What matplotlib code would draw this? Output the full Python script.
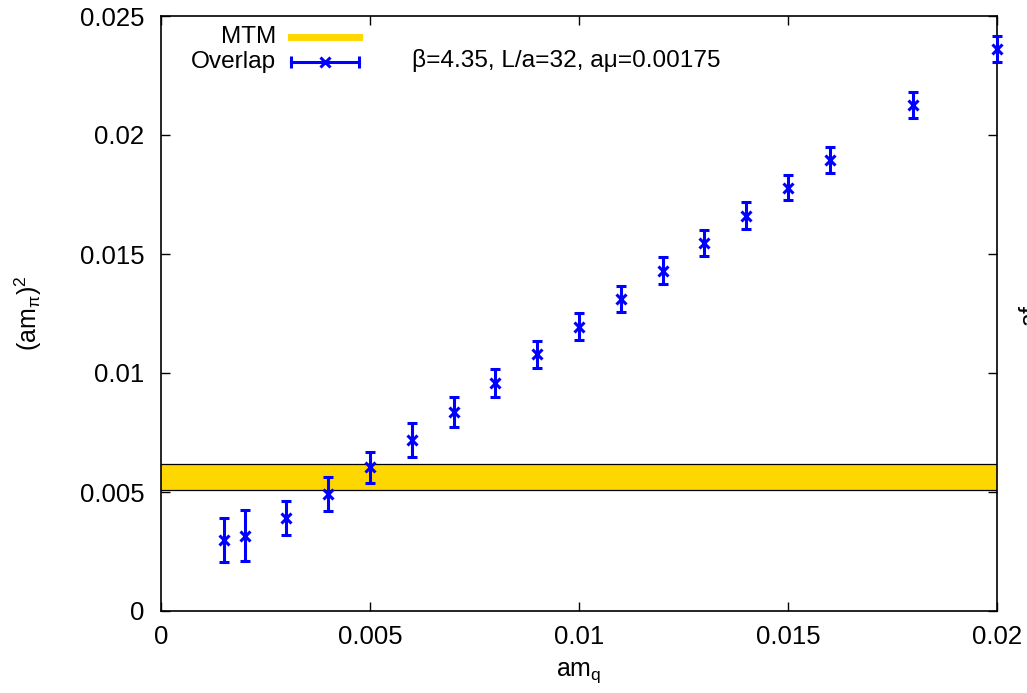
import numpy as np
import matplotlib
matplotlib.use('Agg')
import matplotlib.pyplot as plt

plt.rcParams['font.family'] = ['Liberation Sans', 'DejaVu Sans']
plt.rcParams['mathtext.fontset'] = 'custom'
plt.rcParams['mathtext.rm'] = 'Liberation Sans'
plt.rcParams['mathtext.it'] = 'Liberation Sans'
plt.rcParams['mathtext.default'] = 'regular'

# overlap data: quark mass, pion mass squared, error
amq = [0.0015, 0.002, 0.003, 0.004, 0.005, 0.006, 0.007, 0.008, 0.009,
       0.010, 0.011, 0.012, 0.013, 0.014, 0.015, 0.016, 0.018, 0.020]
ampi2 = [0.00298, 0.00316, 0.00392, 0.00492, 0.00604, 0.00718, 0.00837, 0.00959, 0.01078,
         0.01195, 0.01311, 0.01430, 0.01545, 0.01661, 0.01779, 0.01895, 0.02125, 0.02361]
ampi2_err = [0.00092, 0.00108, 0.00072, 0.00070, 0.00066, 0.00073, 0.00063, 0.00059, 0.00057,
             0.00056, 0.00055, 0.00056, 0.00055, 0.00056, 0.00054, 0.00053, 0.00054, 0.00055]

# MTM band
mtm_lo, mtm_hi = 0.00508, 0.00618

fs_tick = 18.5
fs_lab = 18
fs_key = 17.6
blue = '#0000ff'
gold = '#ffd700'

fig = plt.figure(figsize=(10.27, 6.93), dpi=100)
ax = fig.add_axes([161/1027, 82/693, 836/1027, 595/693])

ax.axhspan(mtm_lo, mtm_hi, facecolor=gold, edgecolor='none', zorder=1)
ax.axhline(mtm_lo, color='k', lw=0.9, zorder=2)
ax.axhline(mtm_hi, color='k', lw=0.9, zorder=2)

ax.errorbar(amq, ampi2, yerr=ampi2_err, fmt='x', color=blue, ms=7, mew=2.2,
            elinewidth=2.2, capsize=3.6, capthick=2.2, zorder=3, clip_on=False)

ax.set_xlim(0, 0.02)
ax.set_ylim(0, 0.025)
ax.set_xticks([0, 0.005, 0.01, 0.015, 0.02])
ax.set_xticklabels(['0', '0.005', '0.01', '0.015', '0.02'])
ax.set_yticks([0, 0.005, 0.01, 0.015, 0.02, 0.025])
ax.set_yticklabels(['0', '0.005', '0.01', '0.015', '0.02', '0.025'])
ax.tick_params(direction='in', length=6.5, width=1, top=True, right=True,
               labelsize=fs_tick)
ax.tick_params(axis='x', pad=10)
ax.tick_params(axis='y', pad=12)
for s in ax.spines.values():
    s.set_linewidth(1.2)

ax.set_xlabel(r'am$_\mathregular{q}$', fontsize=fs_lab)
ax.xaxis.set_label_coords(0.5, -0.083)
ax.set_ylabel(r'(am$_\pi$)$^2$', fontsize=fs_lab)
ax.yaxis.set_label_coords(-0.140, 0.5)

# gnuplot-style key
tr = ax.transAxes
kx_text, kx0, kx1 = 0.1376, 0.1555, 0.2368
ky_mtm, ky_ov = 0.9647, 0.9227
ax.text(kx_text, ky_mtm, 'MTM', transform=tr, ha='right', va='center', fontsize=fs_key)
ax.plot([kx0, kx1], [ky_mtm, ky_mtm], color=gold, lw=5, transform=tr, clip_on=False)
ax.text(kx_text, ky_ov, 'Overlap', transform=tr, ha='right', va='center', fontsize=fs_key)
ax.plot([kx0, kx1], [ky_ov, ky_ov], color=blue, lw=2.2, transform=tr, clip_on=False)
ax.plot([kx0, kx1], [ky_ov, ky_ov], ls='none', marker='|', ms=8, mew=2.2,
        color=blue, transform=tr, clip_on=False)
ax.plot([(kx0 + kx1) / 2], [ky_ov], ls='none', marker='x', ms=7, mew=2.2, color=blue,
        transform=tr, clip_on=False)

ax.text(0.3002, 0.9244, 'β=4.35, L/a=32, aμ=0.00175', transform=tr,
        ha='left', va='center', fontsize=fs_key)

# right axis label, cut off at the figure edge
fig.text(1018/1027, 1 - 327/693, r'af$_\pi$', rotation=90, ha='left', va='bottom',
         fontsize=fs_lab)

fig.savefig('out.png', dpi=100)
